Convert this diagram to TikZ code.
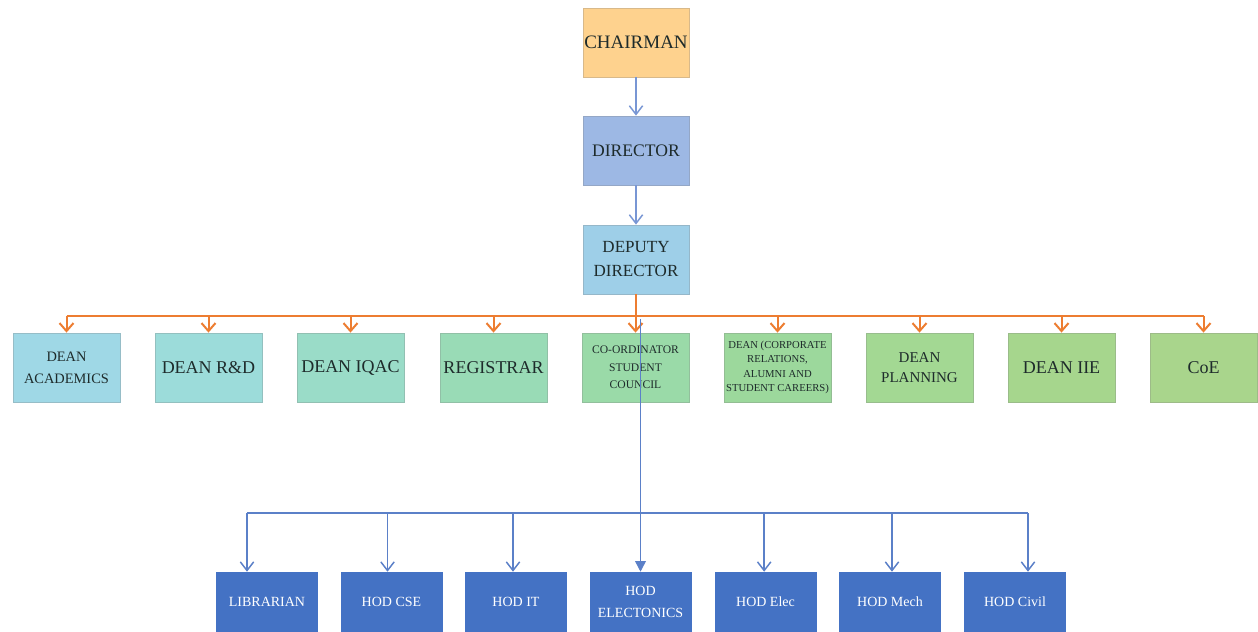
\documentclass[tikz,border=0pt]{standalone}
\usepackage{fontspec}
\setmainfont{Liberation Serif}
\usetikzlibrary{arrows.meta}
\definecolor{cChair}{HTML}{FED28E}
\definecolor{cDir}{HTML}{9DB8E4}
\definecolor{cDep}{HTML}{9ECFE8}
\definecolor{cD1}{HTML}{9FD8E6}
\definecolor{cD2}{HTML}{9CDCDA}
\definecolor{cD3}{HTML}{9ADCC8}
\definecolor{cD4}{HTML}{99DBB6}
\definecolor{cD5}{HTML}{9ADAA8}
\definecolor{cD6}{HTML}{9CD89C}
\definecolor{cD7}{HTML}{A3D893}
\definecolor{cD8}{HTML}{A6D68D}
\definecolor{cD9}{HTML}{A9D58C}
\definecolor{cHod}{HTML}{4472C4}
\definecolor{txt}{HTML}{1E2B2B}
\definecolor{lnOrange}{HTML}{ED7D31}
\definecolor{lnBlue}{HTML}{5B80C8}
\definecolor{lnLight}{HTML}{7896D4}
\begin{document}
\begin{tikzpicture}[x=0.75pt,y=-0.75pt,
  topbox/.style={rectangle, draw=#1!70!gray, fill=#1, line width=0.6pt,
    minimum width=79.5pt, minimum height=51.75pt, inner sep=1pt, align=center, text=txt},
  deanbox/.style={rectangle, draw=#1!70!gray, fill=#1, line width=0.6pt,
    minimum width=80.25pt, minimum height=51.75pt, inner sep=1pt, align=center, text=txt},
  hodbox/.style={rectangle, fill=cHod, draw=none,
    minimum width=76.5pt, minimum height=45pt, inner sep=1pt, align=center, text=white,
    font=\fontsize{10.5}{16}\selectfont},
  fA/.style={font=\fontsize{13.5}{17}\selectfont},
  orln/.style={draw=lnOrange, line width=1.5pt},
  orarr/.style={orln, -{Straight Barb[length=6pt,width=10.5pt]}},
  bluarr/.style={draw=lnBlue, line width=1.1pt, -{Straight Barb[length=6.5pt,width=10pt]}},
  bluln/.style={draw=lnBlue, line width=1.1pt},
  toparr/.style={draw=lnLight, line width=1.1pt, -{Straight Barb[length=6.5pt,width=10pt]}}
]
\useasboundingbox (0,0) rectangle (1258,632);
\clip (0,0) rectangle (1258,632);
\fill[white] (0,0) rectangle (1258,632);

% top chain
\node[topbox=cChair, font=\fontsize{14.25}{17}\selectfont] (chair) at (636,42.5) {CHAIRMAN};
\node[topbox=cDir, font=\fontsize{13.2}{17}\selectfont] (dir) at (636,150.5) {DIRECTOR};
\node[topbox=cDep, font=\fontsize{12.75}{18}\selectfont] (dep) at (636,259.5) {DEPUTY\\DIRECTOR};
\draw[toparr] (chair.south) -- (dir.north);
\draw[toparr] (dir.south) -- (dep.north);

% dean row
\node[deanbox=cD1, font=\fontsize{10.8}{16.5}\selectfont] (d1) at (66.5,367.5) {DEAN\\ACADEMICS};
\node[deanbox=cD2, fA] (d2) at (208.5,367.5) {DEAN R\&D};
\node[deanbox=cD3, fA] (d3) at (350.5,367.5) {DEAN IQAC};
\node[deanbox=cD4, fA] (d4) at (493.5,367.5) {REGISTRAR};
\node[deanbox=cD5, font=\fontsize{8.7}{13}\selectfont] (d5) at (635.5,367.5) {CO-ORDINATOR\\STUDENT\\COUNCIL};
\node[deanbox=cD6, font=\fontsize{8}{10.9}\selectfont] (d6) at (777.5,367.5) {DEAN (CORPORATE\\RELATIONS,\\ALUMNI AND\\STUDENT CAREERS)};
\node[deanbox=cD7, font=\fontsize{11.25}{15}\selectfont] (d7) at (919.5,367.5) {DEAN\\PLANNING};
\node[deanbox=cD8, fA] (d8) at (1061.5,367.5) {DEAN IIE};
\node[deanbox=cD9, fA] (d9) at (1203.5,367.5) {CoE};

% orange bus
\coordinate (ob) at (636,316);
\coordinate (obl) at (66.5,316);
\coordinate (obr) at (1203.5,316);
\draw[orln] (dep.south) -- (ob);
\draw[orln] (obl) -- (obr);
\foreach \n in {d1,d2,d3,d4,d5,d6,d7,d8,d9}{
  \draw[orarr] (\n.north |- ob) -- (\n.north);
}

% HOD row
\node[hodbox] (h1) at (267,602) {LIBRARIAN};
\node[hodbox] (h2) at (391.5,602) {HOD CSE};
\node[hodbox] (h3) at (516,602) {HOD IT};
\node[hodbox] (h4) at (640.5,602) {HOD\\ELECTONICS};
\node[hodbox] (h5) at (765.5,602) {HOD Elec};
\node[hodbox] (h6) at (890,602) {HOD Mech};
\node[hodbox] (h7) at (1015,602) {HOD Civil};

% blue connector from co-ordinator
\coordinate (bs) at (640.5,319);
\draw[draw=lnBlue, line width=1.1pt, -{Triangle[length=8pt,width=8pt]}] (bs) -- (h4.north);
\coordinate (bl) at (247,513);
\coordinate (br) at (1028,513);
\draw[bluln] (bl) -- (br);
\draw[bluarr] (bl) -- ([xshift=-15pt]h1.north);
\draw[bluarr] ([xshift=-3pt]h2.north |- bl) -- ([xshift=-3pt]h2.north);
\draw[bluarr] ([xshift=-2.25pt]h3.north |- bl) -- ([xshift=-2.25pt]h3.north);
\draw[bluarr] ([xshift=-1pt]h5.north |- bl) -- ([xshift=-1pt]h5.north);
\draw[bluarr] ([xshift=1.5pt]h6.north |- bl) -- ([xshift=1.5pt]h6.north);
\draw[bluarr] (br) -- ([xshift=9.75pt]h7.north);
\end{tikzpicture}
\end{document}
